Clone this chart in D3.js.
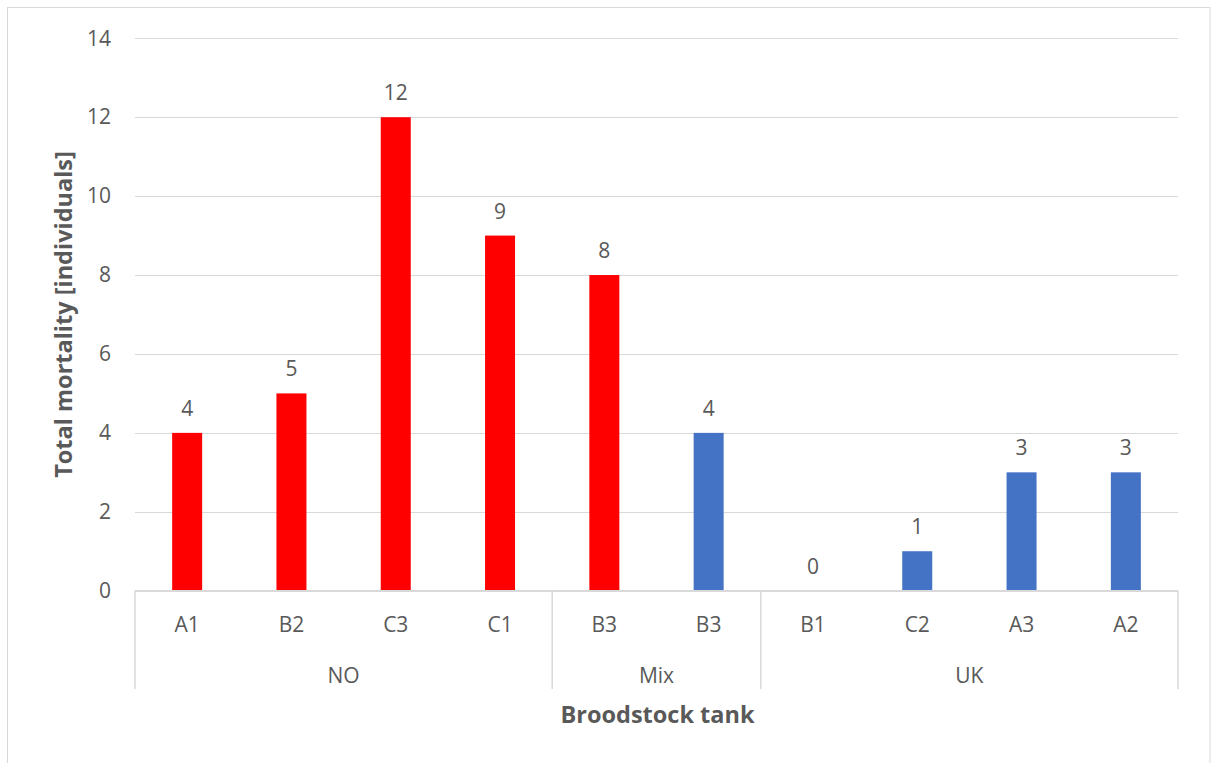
<!DOCTYPE html>
<html>
<head>
<meta charset="utf-8">
<script src="https://cdn.jsdelivr.net/npm/d3@7"></script>
<style>
  html, body { margin: 0; padding: 0; background: #ffffff; }
  svg text { font-family: "Open Sans", "Liberation Sans", sans-serif; fill: #595959; }
</style>
</head>
<body>
<svg id="chart" width="1211" height="763"></svg>
<script>
// ---- data ----
const tanks  = ["A1", "B2", "C3", "C1", "B3", "B3", "B1", "C2", "A3", "A2"];
const groups = ["NO", "NO", "NO", "NO", "Mix", "Mix", "UK", "UK", "UK", "UK"];
const values = [4, 5, 12, 9, 8, 4, 0, 1, 3, 3];
const origin = ["NO", "NO", "NO", "NO", "NO", "UK", "UK", "UK", "UK", "UK"];
const yTicks = [0, 2, 4, 6, 8, 10, 12, 14];
const yTitle = "Total mortality [individuals]";
const xTitle = "Broodstock tank";

const colorOf = { NO: "#FF0000", UK: "#4472C4" };

const svg = d3.select("#chart");
const W = 1211, H = 763;
const plot = { left: 135, right: 1178, top: 38.3, bottom: 590.7 };

// chart border
svg.append("rect")
  .attr("x", 7.5).attr("y", 7.5)
  .attr("width", 1202.5).attr("height", 770)
  .attr("fill", "#fff").attr("stroke", "#D9D9D9").attr("stroke-width", 1);

const idx = d3.range(tanks.length);
const x = d3.scaleBand().domain(idx).range([plot.left, plot.right]).paddingInner(0).paddingOuter(0);
const y = d3.scaleLinear().domain([0, 14]).range([plot.bottom, plot.top]);

// gridlines
const yAxis = d3.axisLeft(y).tickValues(yTicks).tickSize(-(plot.right - plot.left)).tickPadding(24);
const gy = svg.append("g").attr("transform", `translate(${plot.left},0)`).call(yAxis);
gy.select(".domain").remove();
gy.selectAll(".tick line").attr("stroke", "#D9D9D9").attr("stroke-width", 1.3)
  .attr("shape-rendering", "crispEdges");
gy.selectAll(".tick text").attr("font-size", 21).attr("fill", "#595959")
  .style("font-family", '"Open Sans", sans-serif');

// bars
const bw = 30;
svg.append("g").selectAll("rect").data(idx).enter().append("rect")
  .attr("x", i => x(i) + x.bandwidth() / 2 - bw / 2)
  .attr("width", bw)
  .attr("y", i => y(values[i]))
  .attr("height", i => y(0) - y(values[i]))
  .attr("fill", i => colorOf[origin[i]]);

// data labels
svg.append("g").selectAll("text").data(idx).enter().append("text")
  .attr("x", i => x(i) + x.bandwidth() / 2)
  .attr("y", i => y(values[i]) - 17)
  .attr("text-anchor", "middle")
  .attr("font-size", 21)
  .text(i => values[i]);

// category axis line
svg.append("line")
  .attr("x1", plot.left).attr("x2", plot.right)
  .attr("y1", plot.bottom).attr("y2", plot.bottom)
  .attr("stroke", "#D9D9D9").attr("stroke-width", 1.5);

// tank labels
svg.append("g").selectAll("text").data(idx).enter().append("text")
  .attr("x", i => x(i) + x.bandwidth() / 2)
  .attr("y", 632)
  .attr("text-anchor", "middle")
  .attr("font-size", 21)
  .text(i => tanks[i]);

// group separators & labels
const groupNames = Array.from(new Set(groups));
const groupSpans = groupNames.map(g => {
  const members = idx.filter(i => groups[i] === g);
  return { name: g, start: x(members[0]), end: x(members[members.length - 1]) + x.bandwidth() };
});
const bounds = [plot.left].concat(groupSpans.map(g => g.end));
svg.append("g").selectAll("line").data(bounds).enter().append("line")
  .attr("x1", d => d).attr("x2", d => d)
  .attr("y1", plot.bottom).attr("y2", 689)
  .attr("stroke", "#D9D9D9").attr("stroke-width", 1.5);

svg.append("g").selectAll("text").data(groupSpans).enter().append("text")
  .attr("x", d => (d.start + d.end) / 2)
  .attr("y", 683)
  .attr("text-anchor", "middle")
  .attr("font-size", 21)
  .text(d => d.name);

// axis titles
svg.append("text")
  .attr("x", (plot.left + plot.right) / 2 + 1)
  .attr("y", 723)
  .attr("text-anchor", "middle")
  .attr("font-size", 23.5)
  .attr("font-weight", "bold")
  .text(xTitle);

svg.append("text")
  .attr("transform", `translate(72,${(plot.top + plot.bottom) / 2}) rotate(-90)`)
  .attr("text-anchor", "middle")
  .attr("font-size", 23.5)
  .attr("font-weight", "bold")
  .text(yTitle);
</script>
</body>
</html>
